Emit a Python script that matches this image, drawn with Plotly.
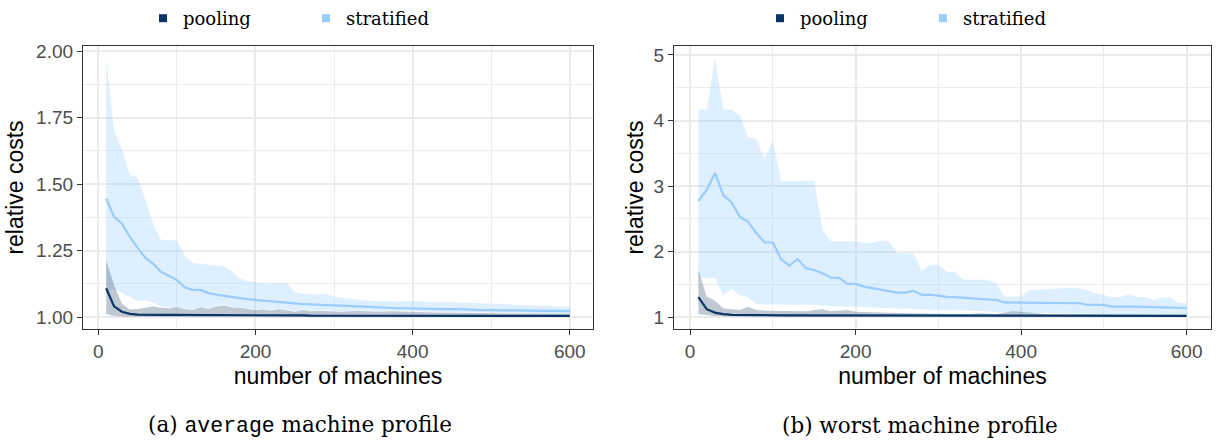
import plotly.graph_objects as go

# ---------------- data ----------------
machines = list(range(10, 610, 10))

# (a) average machine profile
strat_mean_a = [1.445, 1.377, 1.352, 1.302, 1.260, 1.222, 1.200, 1.169, 1.155, 1.139,
                1.112, 1.102, 1.102, 1.090, 1.084, 1.079, 1.075, 1.071, 1.067, 1.064,
                1.061, 1.058, 1.055, 1.053, 1.051, 1.049, 1.047, 1.046, 1.045, 1.044,
                1.042, 1.041, 1.040, 1.039, 1.037, 1.035, 1.034, 1.033, 1.033, 1.032,
                1.032, 1.031, 1.031, 1.030, 1.030, 1.030, 1.029, 1.027, 1.026, 1.026,
                1.025, 1.025, 1.025, 1.024, 1.024, 1.024, 1.023, 1.023, 1.023, 1.022]
strat_upper_a = [1.966, 1.700, 1.630, 1.535, 1.525, 1.440, 1.350, 1.290, 1.290, 1.287,
                 1.230, 1.203, 1.200, 1.198, 1.195, 1.190, 1.172, 1.145, 1.135, 1.130,
                 1.127, 1.125, 1.128, 1.127, 1.095, 1.088, 1.085, 1.085, 1.088, 1.076,
                 1.072, 1.068, 1.064, 1.062, 1.060, 1.058, 1.058, 1.058, 1.060, 1.060,
                 1.058, 1.058, 1.058, 1.057, 1.056, 1.055, 1.054, 1.053, 1.052, 1.052,
                 1.050, 1.048, 1.046, 1.045, 1.044, 1.043, 1.042, 1.041, 1.040, 1.039]
strat_lower_a = [1.100, 1.105, 1.090, 1.075, 1.060, 1.063, 1.055, 1.040, 1.036, 1.038,
                 1.032, 1.029, 1.038, 1.032, 1.042, 1.045, 1.038, 1.037, 1.032, 1.029,
                 1.030, 1.027, 1.031, 1.027, 1.023, 1.028, 1.024, 1.026, 1.024, 1.022,
                 1.022, 1.024, 1.026, 1.024, 1.023, 1.022, 1.024, 1.023, 1.022, 1.020,
                 1.020, 1.020, 1.019, 1.019, 1.018, 1.018, 1.018, 1.017, 1.017, 1.016,
                 1.016, 1.016, 1.015, 1.015, 1.015, 1.014, 1.014, 1.014, 1.013, 1.013]
pool_mean_a = [1.108, 1.040, 1.020, 1.012, 1.009, 1.008, 1.008, 1.008, 1.008, 1.008,
               1.007, 1.007, 1.007, 1.007, 1.007, 1.007, 1.007, 1.007, 1.006, 1.006,
               1.006, 1.006, 1.006, 1.006, 1.006, 1.006, 1.005, 1.005, 1.005, 1.005,
               1.005, 1.005, 1.005, 1.005, 1.005, 1.005, 1.005, 1.005, 1.005, 1.005,
               1.005, 1.004, 1.004, 1.004, 1.004, 1.004, 1.004, 1.004, 1.004, 1.004,
               1.004, 1.004, 1.004, 1.004, 1.004, 1.004, 1.004, 1.004, 1.004, 1.004]
pool_upper_a = [1.214, 1.120, 1.050, 1.028, 1.030, 1.035, 1.040, 1.035, 1.033, 1.038,
                1.030, 1.026, 1.037, 1.030, 1.040, 1.043, 1.036, 1.035, 1.030, 1.026,
                1.028, 1.025, 1.030, 1.025, 1.020, 1.026, 1.022, 1.024, 1.022, 1.020,
                1.020, 1.022, 1.024, 1.022, 1.021, 1.020, 1.022, 1.021, 1.020, 1.018,
                1.018, 1.018, 1.017, 1.017, 1.016, 1.016, 1.016, 1.015, 1.015, 1.014,
                1.014, 1.014, 1.013, 1.013, 1.013, 1.012, 1.012, 1.012, 1.012, 1.012]
pool_lower_a = [1.011, 1.004, 1.002, 1.001, 1.001, 1.001, 1.001, 1.001, 1.001, 1.001,
                1.001, 1.001, 1.001, 1.001, 1.001, 1.001, 1.001, 1.001, 1.001, 1.001,
                1.000, 1.000, 1.000, 1.000, 1.000, 1.000, 1.000, 1.000, 1.000, 1.000,
                1.000, 1.000, 1.000, 1.000, 1.000, 1.000, 1.000, 1.000, 1.000, 1.000,
                1.000, 1.000, 1.000, 1.000, 1.000, 1.000, 1.000, 1.000, 1.000, 1.000,
                1.000, 1.000, 1.000, 1.000, 1.000, 1.000, 1.000, 1.000, 1.000, 1.000]

# (b) worst machine profile
strat_mean_b = [2.773, 2.940, 3.200, 2.864, 2.753, 2.534, 2.457, 2.280, 2.143, 2.140,
                1.884, 1.787, 1.889, 1.746, 1.720, 1.670, 1.604, 1.600, 1.508, 1.508,
                1.467, 1.442, 1.420, 1.390, 1.375, 1.375, 1.400, 1.340, 1.345, 1.330,
                1.310, 1.305, 1.300, 1.290, 1.280, 1.270, 1.264, 1.225, 1.223, 1.222,
                1.218, 1.213, 1.212, 1.210, 1.210, 1.210, 1.213, 1.190, 1.190, 1.188,
                1.160, 1.160, 1.170, 1.160, 1.158, 1.155, 1.152, 1.150, 1.140, 1.140]
strat_upper_b = [4.170, 4.170, 4.950, 4.170, 4.170, 4.080, 3.750, 3.720, 3.420, 3.700,
                 3.070, 3.070, 3.080, 3.080, 3.080, 2.330, 2.160, 2.160, 2.160, 2.160,
                 2.130, 2.130, 2.170, 2.160, 1.976, 1.970, 1.970, 1.700, 1.800, 1.800,
                 1.695, 1.695, 1.570, 1.570, 1.570, 1.570, 1.518, 1.314, 1.314, 1.314,
                 1.416, 1.416, 1.430, 1.440, 1.440, 1.440, 1.440, 1.416, 1.365, 1.340,
                 1.305, 1.310, 1.350, 1.310, 1.305, 1.264, 1.305, 1.305, 1.213, 1.213]
strat_lower_b = [1.600, 1.595, 1.595, 1.340, 1.430, 1.340, 1.305, 1.200, 1.200, 1.198,
                 1.195, 1.190, 1.190, 1.190, 1.190, 1.180, 1.170, 1.160, 1.160, 1.160,
                 1.155, 1.150, 1.140, 1.130, 1.125, 1.120, 1.120, 1.115, 1.112, 1.110,
                 1.110, 1.108, 1.105, 1.100, 1.100, 1.090, 1.080, 1.072, 1.070, 1.068,
                 1.065, 1.063, 1.060, 1.058, 1.056, 1.055, 1.053, 1.052, 1.050, 1.050,
                 1.050, 1.050, 1.050, 1.050, 1.050, 1.050, 1.050, 1.050, 1.050, 1.050]
pool_mean_b = [1.305, 1.122, 1.070, 1.046, 1.035, 1.032, 1.030, 1.030, 1.029, 1.028,
               1.028, 1.027, 1.027, 1.027, 1.026, 1.026, 1.026, 1.026, 1.025, 1.025,
               1.025, 1.025, 1.025, 1.024, 1.024, 1.024, 1.024, 1.024, 1.023, 1.023,
               1.023, 1.023, 1.023, 1.023, 1.022, 1.022, 1.022, 1.022, 1.022, 1.022,
               1.022, 1.022, 1.021, 1.021, 1.021, 1.021, 1.021, 1.021, 1.021, 1.021,
               1.021, 1.020, 1.020, 1.020, 1.020, 1.020, 1.020, 1.020, 1.020, 1.020]
pool_upper_b = [1.720, 1.314, 1.250, 1.137, 1.120, 1.110, 1.160, 1.110, 1.100, 1.100,
                1.100, 1.090, 1.100, 1.090, 1.110, 1.120, 1.090, 1.100, 1.110, 1.085,
                1.080, 1.070, 1.070, 1.070, 1.065, 1.060, 1.060, 1.055, 1.060, 1.055,
                1.050, 1.050, 1.048, 1.050, 1.060, 1.055, 1.050, 1.070, 1.090, 1.085,
                1.070, 1.050, 1.045, 1.045, 1.044, 1.043, 1.042, 1.042, 1.041, 1.040,
                1.040, 1.040, 1.040, 1.040, 1.040, 1.040, 1.040, 1.040, 1.040, 1.040]
pool_lower_b = [1.050, 1.030, 1.020, 1.015, 1.012, 1.011, 1.010, 1.010, 1.010, 1.009,
                1.009, 1.009, 1.008, 1.008, 1.008, 1.008, 1.008, 1.007, 1.007, 1.007,
                1.007, 1.007, 1.007, 1.007, 1.006, 1.006, 1.006, 1.006, 1.006, 1.006,
                1.006, 1.006, 1.006, 1.006, 1.006, 1.005, 1.005, 1.005, 1.005, 1.005,
                1.005, 1.005, 1.005, 1.005, 1.005, 1.005, 1.005, 1.005, 1.005, 1.005,
                1.005, 1.005, 1.005, 1.005, 1.005, 1.005, 1.005, 1.005, 1.005, 1.005]

series_names = ["pooling", "stratified"]
x_ticks = [0, 200, 400, 600]
captions = ["(a) <span style='font-family:\"Liberation Mono\", monospace'>average</span> machine profile",
            "(b) worst machine profile"]
x_title = "number of machines"
y_title = "relative costs"

# ---------------- styling ----------------
POOL_LINE = "#0A3566"
STRAT_LINE = "#99CCFF"
STRAT_FILL = "rgba(153,204,255,0.32)"
POOL_FILL = "rgba(62,92,125,0.33)"
GRID = "#EBEBEB"
FRAME = "#333333"
SANS = "Liberation Sans, Arial, sans-serif"
SERIF = "DejaVu Serif, serif"

fig = go.Figure()

panels = [
    dict(xa="x", ya="y", sm=strat_mean_a, su=strat_upper_a, sl=strat_lower_a,
         pm=pool_mean_a, pu=pool_upper_a, pl=pool_lower_a, legend="legend"),
    dict(xa="x2", ya="y2", sm=strat_mean_b, su=strat_upper_b, sl=strat_lower_b,
         pm=pool_mean_b, pu=pool_upper_b, pl=pool_lower_b, legend="legend2"),
]

for p in panels:
    common = dict(xaxis=p["xa"], yaxis=p["ya"], showlegend=False, hoverinfo="skip")
    # stratified ribbon
    fig.add_trace(go.Scatter(x=machines, y=p["su"], mode="lines", line=dict(width=0),
                             **common))
    fig.add_trace(go.Scatter(x=machines, y=p["sl"], mode="lines", line=dict(width=0),
                             fill="tonexty", fillcolor=STRAT_FILL, **common))
    # pooling ribbon
    fig.add_trace(go.Scatter(x=machines, y=p["pu"], mode="lines", line=dict(width=0),
                             **common))
    fig.add_trace(go.Scatter(x=machines, y=p["pl"], mode="lines", line=dict(width=0),
                             fill="tonexty", fillcolor=POOL_FILL, **common))
    # mean lines
    fig.add_trace(go.Scatter(x=machines, y=p["sm"], mode="lines",
                             line=dict(color=STRAT_LINE, width=2.2), **common))
    fig.add_trace(go.Scatter(x=machines, y=p["pm"], mode="lines",
                             line=dict(color=POOL_LINE, width=2.2), **common))
    # legend keys
    for name, col in zip(series_names, [POOL_LINE, STRAT_LINE]):
        fig.add_trace(go.Scatter(x=[None], y=[None], mode="markers", name=name,
                                 marker=dict(symbol="square", size=8, color=col),
                                 xaxis=p["xa"], yaxis=p["ya"], legend=p["legend"],
                                 showlegend=True))

ydom = [119 / 448, 402 / 448]
axis_common = dict(showline=True, mirror=True, linecolor=FRAME, linewidth=1.3,
                   ticks="outside", ticklen=5, tickwidth=1.3, tickcolor=FRAME,
                   showgrid=True, gridcolor=GRID, gridwidth=1.6, zeroline=False,
                   tickfont=dict(family=SANS, size=19, color="#4D4D4D"),
                   automargin=False)
minor_common = dict(showgrid=True, gridcolor="#EDEDED", gridwidth=0.9, ticks="")
title_font = dict(family=SANS, size=23, color="black")
legend_common = dict(orientation="h", y=1.0, yanchor="top", traceorder="normal",
                     font=dict(family=SERIF, size=18, color="black"),
                     entrywidth=118, entrywidthmode="pixels", bgcolor="rgba(0,0,0,0)",
                     itemclick=False, itemdoubleclick=False, xanchor="left")

fig.update_layout(
    template="none",
    width=1220, height=448,
    margin=dict(l=0, r=0, t=0, b=0),
    paper_bgcolor="white", plot_bgcolor="white",
    xaxis=dict(domain=[83 / 1220, 593 / 1220], range=[-19.5, 629.5], tickvals=x_ticks,
               minor=dict(dtick=100, tick0=0, **minor_common),
               title=dict(text=x_title, font=title_font, standoff=6),
               anchor="y", **axis_common),
    yaxis=dict(domain=ydom, range=[0.955, 2.019], tick0=1, dtick=0.25, tickformat=".2f",
               minor=dict(dtick=0.125, tick0=1, **minor_common),
               title=dict(text=y_title, font=title_font, standoff=6),
               anchor="x", **axis_common),
    xaxis2=dict(domain=[674 / 1220, 1211 / 1220], range=[-19.5, 629.5], tickvals=x_ticks,
                minor=dict(dtick=100, tick0=0, **minor_common),
                title=dict(text=x_title, font=title_font, standoff=6),
                anchor="y2", **axis_common),
    yaxis2=dict(domain=ydom, range=[0.82, 5.137], tick0=1, dtick=1,
                minor=dict(dtick=0.5, tick0=1, **minor_common),
                title=dict(text=y_title, font=title_font, standoff=3),
                anchor="x2", **axis_common),
    legend=dict(x=143 / 1220, **legend_common),
    legend2=dict(x=760 / 1220, **legend_common),
)

for text, xc in zip(captions, [300 / 1220, 920 / 1220]):
    fig.add_annotation(text=text, x=xc, y=23 / 448, xref="paper", yref="paper",
                       xanchor="center", yanchor="middle", showarrow=False,
                       font=dict(family=SERIF, size=21.5, color="black"))

fig.write_html("out.html")
